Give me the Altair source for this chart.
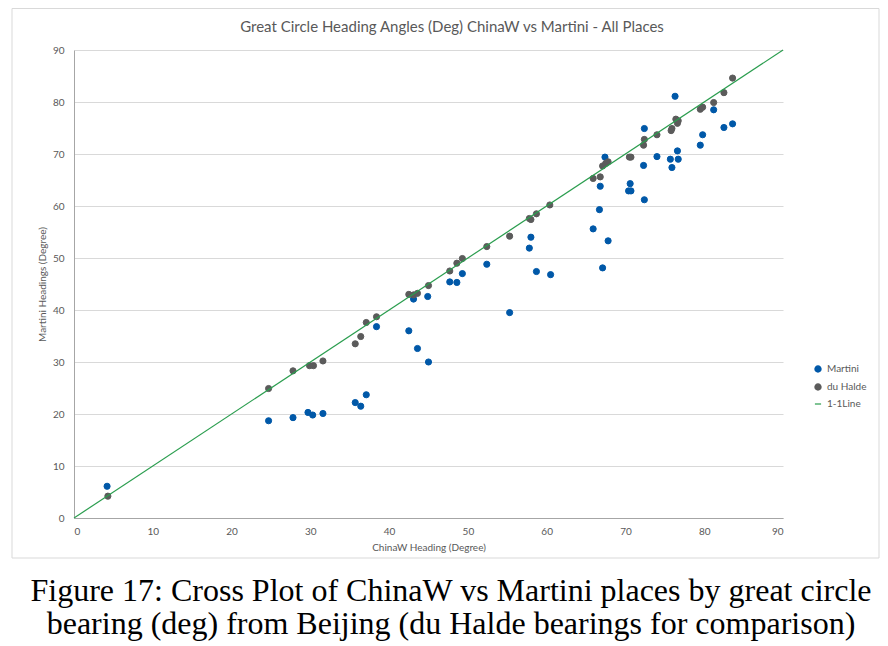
import altair as alt
import pandas as pd

# ---- data ----
martini_x = [4.2, 24.7, 27.8, 29.7, 30.3, 31.6, 35.7, 36.4, 37.1, 38.4,
             42.5, 43.1, 43.6, 44.9, 45.0, 47.7, 48.6, 49.3, 52.4, 55.3,
             57.8, 58.0, 58.7, 60.5, 65.9, 66.7, 66.8, 67.1, 67.4, 67.8,
             70.4, 70.7, 70.6, 72.3, 72.4, 72.4, 74.0, 75.7, 75.9, 76.3,
             76.6, 76.7, 79.5, 79.8, 81.2, 82.5, 83.6]
martini_y = [6.1, 18.7, 19.3, 20.3, 19.8, 20.1, 22.2, 21.5, 23.7, 36.8,
             36.0, 42.1, 32.6, 42.6, 30.0, 45.4, 45.3, 47.0, 48.8, 39.5,
             51.9, 54.0, 47.4, 46.8, 55.6, 59.3, 63.8, 48.1, 69.4, 53.3,
             62.9, 62.9, 64.3, 67.8, 61.2, 74.9, 69.5, 69.0, 67.4, 81.1,
             70.6, 69.0, 71.7, 73.7, 78.5, 75.1, 75.8]

duhalde_x = [4.3, 24.7, 27.8, 29.9, 30.4, 31.6, 35.7, 36.4, 37.1, 38.4,
             42.5, 43.1, 43.6, 45.0, 47.7, 48.6, 49.3, 52.4, 55.3, 57.8,
             58.0, 58.7, 60.4, 65.9, 66.8, 67.1, 67.5, 67.8, 70.5, 70.7,
             72.3, 72.4, 74.0, 75.8, 75.9, 76.4, 76.6, 76.7, 79.5, 79.8,
             81.2, 82.5, 83.6]
duhalde_y = [4.2, 24.9, 28.3, 29.3, 29.3, 30.2, 33.5, 34.9, 37.6, 38.7,
             43.0, 42.9, 43.2, 44.7, 47.5, 49.0, 49.9, 52.2, 54.2, 57.6,
             57.4, 58.5, 60.2, 65.3, 65.6, 67.7, 68.2, 68.5, 69.4, 69.4,
             71.7, 72.8, 73.7, 74.5, 74.9, 76.7, 75.9, 76.4, 78.6, 79.0,
             79.9, 81.8, 84.6]

line_x = [0, 90]
line_y = [0, 90]

series_names = ["Martini", "du Halde", "1-1Line"]
series_colors = ["#0058a8", "#5b5b5b", "#2a9d4e"]
axis_ticks = [0, 10, 20, 30, 40, 50, 60, 70, 80, 90]

title_text = "Great Circle Heading Angles (Deg) ChinaW vs Martini - All Places"
x_title = "ChinaW Heading (Degree)"
y_title = "Martini Headings (Degree)"
caption_text = ("Figure 17: Cross Plot of ChinaW vs Martini places by great circle\n"
                "bearing (deg) from Beijing (du Halde bearings for comparison)")

# ---- tables ----
pts = pd.DataFrame({
    "x": martini_x + duhalde_x,
    "y": martini_y + duhalde_y,
    "series": ["Martini"] * len(martini_x) + ["du Halde"] * len(duhalde_x),
})
line_df = pd.DataFrame({"x": line_x, "y": line_y, "series": ["1-1Line"] * len(line_x)})
cap_df = pd.DataFrame({"t": [caption_text]})
title_df = pd.DataFrame({"t": [title_text]})

FONT = "Lato"
W, H = 709, 468

xs = alt.Scale(domain=[0, 90], nice=False)
ys = alt.Scale(domain=[0, 90], nice=False)
color_scale = alt.Scale(domain=series_names, range=series_colors)

x_enc = alt.X("x:Q", scale=xs, axis=alt.Axis(values=axis_ticks, title=x_title, grid=False))
y_enc = alt.Y("y:Q", scale=ys, axis=alt.Axis(values=axis_ticks, title=y_title, grid=True))

legend = alt.Legend(title=None, orient="none", legendX=739, legendY=314)

points = alt.Chart(pts).mark_point(filled=False, strokeWidth=1, opacity=1).encode(
    x=x_enc,
    y=y_enc,
    color=alt.Color("series:N", scale=color_scale, legend=legend),
    fill=alt.Fill("series:N", scale=color_scale, legend=legend),
    shape=alt.Shape("series:N", scale=alt.Scale(domain=series_names,
                                               range=["circle", "circle", "stroke"]), legend=legend),
    size=alt.Size("series:N", scale=alt.Scale(domain=series_names, range=[38, 38, 420]), legend=legend),
)

one_line = alt.Chart(line_df).mark_line(strokeWidth=1.2).encode(
    x=x_enc,
    y=y_enc,
    color=alt.Color("series:N", scale=color_scale, legend=legend),
)

border = alt.Chart(pd.DataFrame({"a": [0]})).mark_rect(
    fill="transparent", stroke="#d9d9d9", strokeWidth=1
).encode(x=alt.value(-62), x2=alt.value(805), y=alt.value(-41.5), y2=alt.value(508))

title_mark = alt.Chart(title_df).mark_text(
    font=FONT, fontSize=15, color="#595959", align="center", baseline="middle"
).encode(text="t:N", x=alt.value(378), y=alt.value(-23))

caption = alt.Chart(cap_df).mark_text(
    font="Liberation Serif", fontSize=32, color="#000000", lineBreak="\n",
    lineHeight=33, align="center", baseline="alphabetic"
).encode(text="t:N", x=alt.value(377), y=alt.value(551))

chart = alt.layer(border, points, one_line, title_mark, caption).properties(
    width=W,
    height=H,
    autosize=alt.AutoSizeParams(type="none"),
    padding={"left": 66, "top": 42, "right": 97, "bottom": 124},
).configure_view(stroke=None).configure_axis(
    labelFont=FONT, labelFontSize=10, labelColor="#595959",
    titleFont=FONT, titleFontSize=10, titleColor="#595959", titleFontWeight="normal",
    domainColor="#a6a6a6", gridColor="#d9d9d9", ticks=False, tickSize=0,
).configure_axisX(labelPadding=8, titlePadding=6).configure_axisY(
    labelPadding=10, titlePadding=5
).configure_legend(
    labelFont=FONT, labelFontSize=10, labelColor="#595959", symbolStrokeWidth=1.2,
    rowPadding=6, labelOffset=4
)

chart.save("out.html", embed_options={"renderer": "svg", "actions": False})
